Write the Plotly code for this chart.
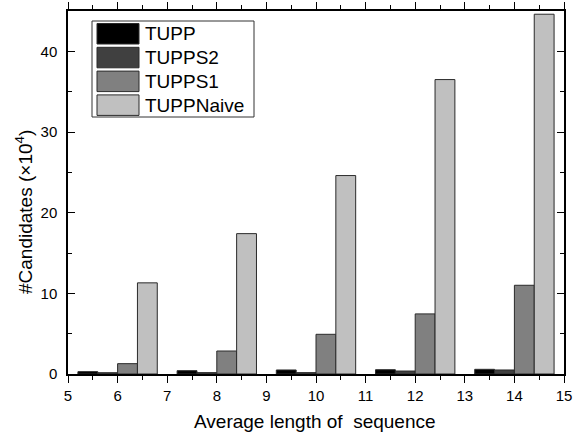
import plotly.graph_objects as go

# average length of sequence
lengths = [6, 8, 10, 12, 14]

# number of candidates (x10^4)
tupp = [0.29, 0.41, 0.50, 0.53, 0.58]
tupps2 = [0.16, 0.17, 0.17, 0.37, 0.50]
tupps1 = [1.28, 2.85, 4.92, 7.45, 11.0]
tupp_naive = [11.3, 17.4, 24.6, 36.5, 44.6]

series = [
    ('TUPP', tupp, '#000000'),
    ('TUPPS2', tupps2, '#404040'),
    ('TUPPS1', tupps1, '#808080'),
    ('TUPPNaive', tupp_naive, '#c0c0c0'),
]

font = 'Liberation Sans, Arial, sans-serif'

fig = go.Figure()
for name, vals, color in series:
    fig.add_trace(go.Bar(x=lengths, y=vals, name=name, marker=dict(color=color, line=dict(color='#2a2a2a', width=1))))

# plot area in pixels (for the hand-made legend and titles)
left, right, top, bottom = 68, 564, 11, 374
pw, ph = right - left, bottom - top

def px_x(x):
    return (x - left) / pw

def px_y(y):
    return (bottom - y) / ph

# legend box like the original (big swatches)
fig.add_shape(type='rect', xref='paper', yref='paper', x0=px_x(92), x1=px_x(254), y0=px_y(117), y1=px_y(21),
              line=dict(color='#333333', width=1), fillcolor='white')
for i, (name, vals, color) in enumerate(series):
    y0 = 23.5 + i * 23.8
    fig.add_shape(type='rect', xref='paper', yref='paper', x0=px_x(97), x1=px_x(139), y0=px_y(y0 + 20.5), y1=px_y(y0),
                  line=dict(color='#2a2a2a', width=1), fillcolor=color)
    fig.add_annotation(xref='paper', yref='paper', x=px_x(143), y=px_y(y0 + 10.5), text=name, showarrow=False,
                       xanchor='left', yanchor='middle', font=dict(family=font, size=19, color='black'))

# axis titles placed like the original
fig.add_annotation(xref='paper', yref='paper', x=px_x(24), y=px_y(212), text='#Candidates (×10<sup>4</sup>)',
                   textangle=-90, showarrow=False, xanchor='center', yanchor='middle',
                   font=dict(family=font, size=19, color='black'))
fig.add_annotation(xref='paper', yref='paper', x=px_x(315), y=px_y(421), text='Average length of  sequence',
                   showarrow=False, xanchor='center', yanchor='middle',
                   font=dict(family=font, size=19, color='black'))

fig.update_layout(
    width=573, height=432,
    margin=dict(l=left, r=573 - right, t=top, b=432 - bottom),
    paper_bgcolor='white', plot_bgcolor='white',
    barmode='group', bargap=0.2, bargroupgap=0,
    showlegend=False,
    font=dict(family=font, size=15, color='black'),
)
fig.update_xaxes(range=[5, 15], dtick=1, tick0=5, ticks='outside', ticklen=7, tickwidth=1.2, tickcolor='black',
                 minor=dict(dtick=0.5, ticks='outside', ticklen=4, tickcolor='black'),
                 showline=True, linecolor='black', linewidth=1.5, mirror='ticks', showgrid=False, zeroline=False,
                 tickfont=dict(size=15), automargin=False)
fig.update_yaxes(range=[0, 45], dtick=10, tick0=0, ticks='inside', ticklen=7, tickwidth=1.2, tickcolor='black',
                 minor=dict(dtick=5, ticks='inside', ticklen=4, tickcolor='black'),
                 showline=True, linecolor='black', linewidth=1.5, mirror='ticks', showgrid=False, zeroline=False,
                 tickfont=dict(size=15), ticklabelstandoff=6, automargin=False)

fig.write_html('out.html', config={'displayModeBar': False}, post_script="document.body.style.margin='0';")
